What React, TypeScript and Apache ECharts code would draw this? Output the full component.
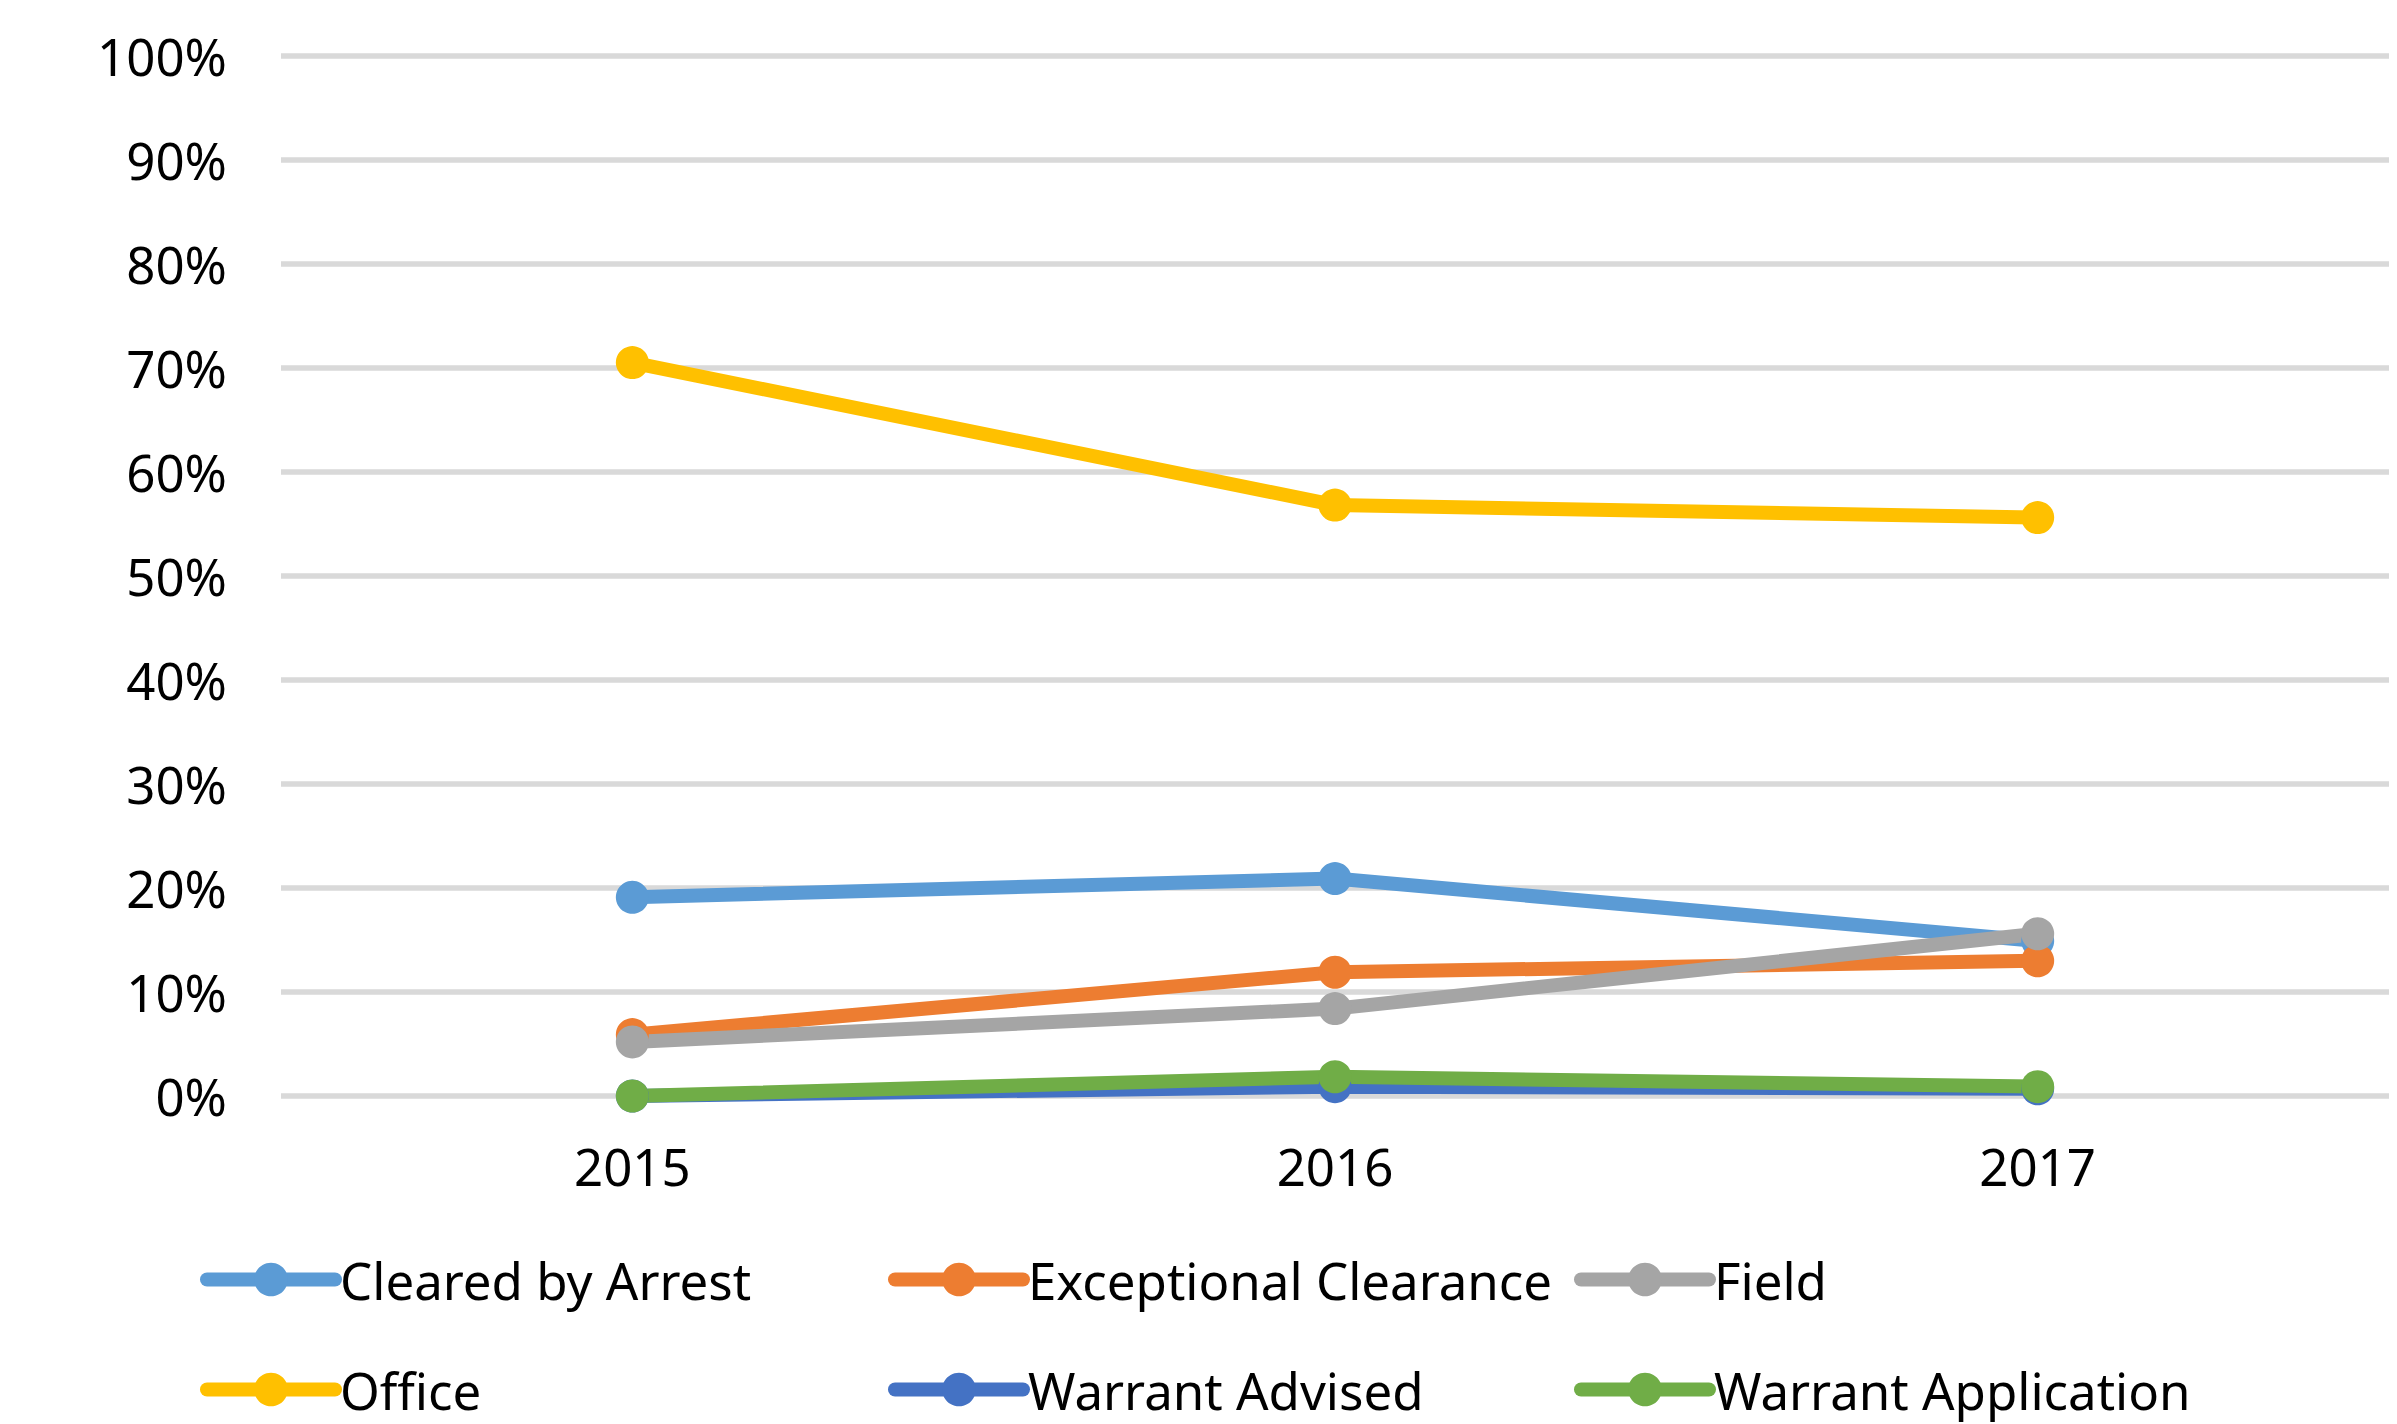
import React, { useEffect, useRef } from "react";
import * as echarts from "echarts";

const years = ["2015", "2016", "2017"];
const clearedByArrest = [19.1, 20.9, 14.9];
const exceptionalClearance = [5.9, 11.9, 13.0];
const field = [5.2, 8.4, 15.6];
const office = [70.5, 56.8, 55.6];
const warrantAdvised = [0, 0.9, 0.7];
const warrantApplication = [0, 1.85, 0.9];

const seriesNames = [
  "Cleared by Arrest",
  "Exceptional Clearance",
  "Field",
  "Office",
  "Warrant Advised",
  "Warrant Application",
];
const seriesData = [clearedByArrest, exceptionalClearance, field, office, warrantAdvised, warrantApplication];
const colors = ["#5B9BD5", "#ED7D31", "#A5A5A5", "#FFC000", "#4472C4", "#70AD47"];

const FONT = "Noto Sans";

export default function App() {
  const ref = useRef<HTMLDivElement>(null);
  useEffect(() => {
    if (!ref.current) return;
    const chart = echarts.init(ref.current, undefined, { renderer: "svg" });
    const legendPos = [
      { left: 200, top: 1283 },
      { left: 888, top: 1283 },
      { left: 1574, top: 1283 },
      { left: 200, top: 1393 },
      { left: 888, top: 1393 },
      { left: 1574, top: 1393 },
    ];
    const itemH = 42;
    chart.setOption({
      animation: false,
      backgroundColor: "#ffffff",
      color: colors,
      grid: { left: 281, right: 8, top: 55.7, bottom: 328, containLabel: false },
      legend: seriesNames.map((n, i) => ({
        data: [n],
        left: legendPos[i].left,
        top: legendPos[i].top - 29,
        itemWidth: 128,
        itemHeight: itemH,
        selectedMode: false,
        padding: 0,
        lineStyle: { width: 14, cap: "round" },
        textStyle: { fontFamily: FONT, fontSize: 51, color: "#000" },
      })),
      xAxis: {
        type: "category",
        data: years,
        boundaryGap: true,
        axisLine: { show: false },
        axisTick: { show: false },
        axisLabel: { fontFamily: FONT, fontSize: 51, color: "#000", margin: 44 },
      },
      yAxis: {
        type: "value",
        min: 0,
        max: 100,
        interval: 10,
        axisLine: { show: false },
        axisTick: { show: false },
        axisLabel: {
          fontFamily: FONT,
          fontSize: 51,
          color: "#000",
          margin: 54,
          padding: [0, 0, 6, 0],
          formatter: "{value}%",
        },
        splitLine: { lineStyle: { color: "#D9D9D9", width: 5.5 } },
      },
      series: seriesNames.map((n, i) => ({
        name: n,
        type: "line",
        data: seriesData[i],
        symbol: "circle",
        symbolSize: 33,
        lineStyle: { width: 14, color: colors[i] },
        itemStyle: { color: colors[i] },
      })),
    });
    return () => chart.dispose();
  }, []);
  return (
    <div
      ref={ref}
      style={{ position: "fixed", left: 0, top: 0, width: 2397, height: 1424, background: "#fff" }}
    />
  );
}
